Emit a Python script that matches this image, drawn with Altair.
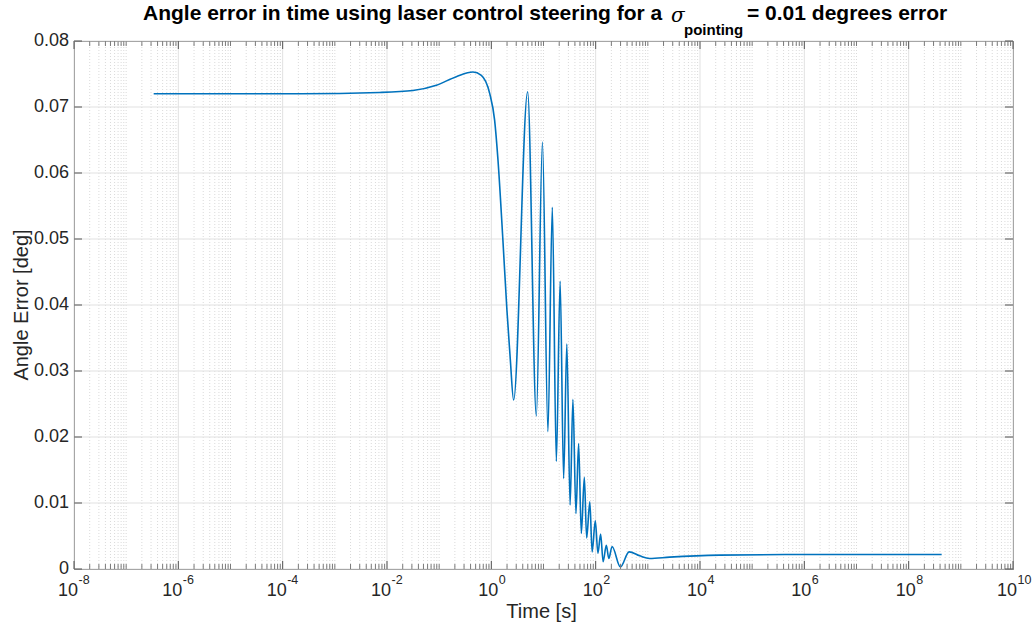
import altair as alt
import pandas as pd

# ---- data ----
time_s = [3.37e-7, 2.11e-4, 7.23e-3, 0.0314, 0.0883, 0.213, 0.444, 0.643, 0.927,
          1.156, 1.340, 1.667, 1.991, 2.312, 2.673, 4.966, 7.295, 9.55, 12.16,
          14.76, 17.62, 20.84, 24.32, 27.99, 32.36, 36.64, 41.88, 47.10, 53.09,
          60.67, 67.14, 77.27, 85.51, 98.4, 110.4, 124.5, 139.0, 160.0, 178.6,
          206.5, 297.2, 437.5, 696.6, 1081, 2618, 23770, 8.13e5, 4.29e8]
angle_err = [0.0720, 0.0720, 0.0722, 0.0725, 0.0733, 0.0746, 0.0753, 0.0748, 0.0721,
             0.0680, 0.0620, 0.0498, 0.0392, 0.0317, 0.0256, 0.0723, 0.0232, 0.0647,
             0.0208, 0.0548, 0.0163, 0.0436, 0.0137, 0.0341, 0.0097, 0.0257, 0.0084,
             0.0190, 0.0054, 0.0139, 0.0047, 0.0102, 0.0026, 0.0073, 0.0024, 0.0053,
             0.0011, 0.0036, 0.0016, 0.0034, 0.0003, 0.0026, 0.0020, 0.0016, 0.0018,
             0.0021, 0.0022, 0.0022]

x_tick_values = [1e-8, 1e-6, 1e-4, 1e-2, 1e0, 1e2, 1e4, 1e6, 1e8, 1e10]
x_tick_base = ["10"] * 10
x_tick_exponents = ["-8", "-6", "-4", "-2", "0", "2", "4", "6", "8", "10"]
y_tick_values = [0, 0.01, 0.02, 0.03, 0.04, 0.05, 0.06, 0.07, 0.08]
y_tick_labels = ["0", "0.01", "0.02", "0.03", "0.04", "0.05", "0.06", "0.07", "0.08"]

# minor (dotted) log grid positions: 2..9 x 10^d and the odd decades
minor_pos = []
for d in range(-8, 10):
    if d % 2 != 0:
        minor_pos.append(10.0 ** d)
    for k in range(2, 10):
        minor_pos.append(k * 10.0 ** d)

W, H = 939, 528
LINE = "#0072BD"
AX = "#262626"
FONT = "Liberation Sans"

xscale = alt.Scale(type="log", domain=[1e-8, 1e10])
yscale = alt.Scale(domain=[0, 0.08])

df = pd.DataFrame({"t": time_s, "err": angle_err})
minor_df = pd.DataFrame({"t": minor_pos})
xlab_df = pd.DataFrame({"t": x_tick_values, "base": x_tick_base, "exp": x_tick_exponents})
xlab_wide = xlab_df[xlab_df["exp"].str.len() > 1]
xlab_narrow = xlab_df[xlab_df["exp"].str.len() == 1]
ylab_df = pd.DataFrame({"v": y_tick_values, "lab": y_tick_labels})
one = pd.DataFrame({"a": [0]})

X = lambda: alt.X("t:Q", scale=xscale, axis=None)
Y = lambda f: alt.Y(f, scale=yscale, axis=None)

minor_grid = alt.Chart(minor_df).mark_rule(color="#dadada", strokeDash=[1, 2], strokeWidth=1).encode(
    x=X(), y=alt.value(0), y2=alt.value(H))
major_vgrid = alt.Chart(xlab_df).mark_rule(color="#e1e1e1", strokeWidth=1).encode(
    x=X(), y=alt.value(0), y2=alt.value(H))
major_hgrid = alt.Chart(ylab_df).mark_rule(color="#e1e1e1", strokeWidth=1).encode(
    y=Y("v:Q"), x=alt.value(0), x2=alt.value(W))

line = alt.Chart(df).mark_line(color=LINE, strokeWidth=1.6, interpolate="monotone").encode(
    x=X(), y=Y("err:Q"))

def xticks(data, y0, y1, color):
    return alt.Chart(data).mark_rule(color=color, strokeWidth=1).encode(
        x=X(), y=alt.value(y0), y2=alt.value(y1))

def yticks(x0, x1):
    return alt.Chart(ylab_df).mark_rule(color="#555555", strokeWidth=1).encode(
        y=Y("v:Q"), x=alt.value(x0), x2=alt.value(x1))

tick_layers = [
    xticks(minor_df, H, H - 5, "#7a7a7a"),
    xticks(xlab_df, H, H - 8, "#555555"),
    xticks(minor_df, 0, 5, "#7a7a7a"),
    xticks(xlab_df, 0, 8, "#555555"),
    yticks(0, 8),
    yticks(W, W - 8),
]

# tick labels
ylabels = alt.Chart(ylab_df).mark_text(align="right", baseline="middle", fontSize=18,
                                       font=FONT, color=AX, dx=-5).encode(
    y=Y("v:Q"), x=alt.value(0), text="lab:N")

def xlabel_layers(data, off):
    base = alt.Chart(data).mark_text(align="right", baseline="middle", fontSize=18,
                                     font=FONT, color=AX, dx=off).encode(
        x=X(), y=alt.value(H + 22), text="base:N")
    exp = alt.Chart(data).mark_text(align="left", baseline="middle", fontSize=12.5,
                                    font=FONT, color=AX, dx=off + 0.5).encode(
        x=X(), y=alt.value(H + 11), text="exp:N")
    return [base, exp]

xlabels = xlabel_layers(xlab_wide, 4) + xlabel_layers(xlab_narrow, 7)

def txt(text, x, y, size, weight="normal", align="center", baseline="middle",
        angle=0, style="normal", font=FONT, color=AX):
    return alt.Chart(one).mark_text(text=text, fontSize=size, fontWeight=weight,
                                    align=align, baseline=baseline, angle=angle,
                                    fontStyle=style, font=font, color=color).encode(
        x=alt.value(x), y=alt.value(y))

TX = 69  # title left in plot coordinates
texts = [
    txt("Angle Error [deg]", -52, H / 2, 20, angle=270),
    txt("Time [s]", W / 2 - 2, 571, 20),
    txt("Angle error in time using laser control steering for a", TX, -27, 21,
        weight="bold", align="left", color="#000000"),
    txt("σ", TX + 528, -25, 20, style="italic", align="left", font="DejaVu Serif", color="#000000"),
    txt("pointing", TX + 541, -11, 15, weight="bold", align="left", color="#000000"),
    txt("= 0.01 degrees error", TX + 604, -27, 21, weight="bold", align="left",
        color="#000000"),
]

chart = alt.layer(minor_grid, major_vgrid, major_hgrid, line, *tick_layers,
                  ylabels, *xlabels, *texts).properties(
    width=W, height=H,
    padding={"left": 74, "top": 41, "right": 23, "bottom": 61},
    autosize="none",
    background="white",
).configure_view(stroke="#6b6b6b", strokeWidth=1)

chart.save("out.html", embed_options={"renderer": "svg", "actions": False})
